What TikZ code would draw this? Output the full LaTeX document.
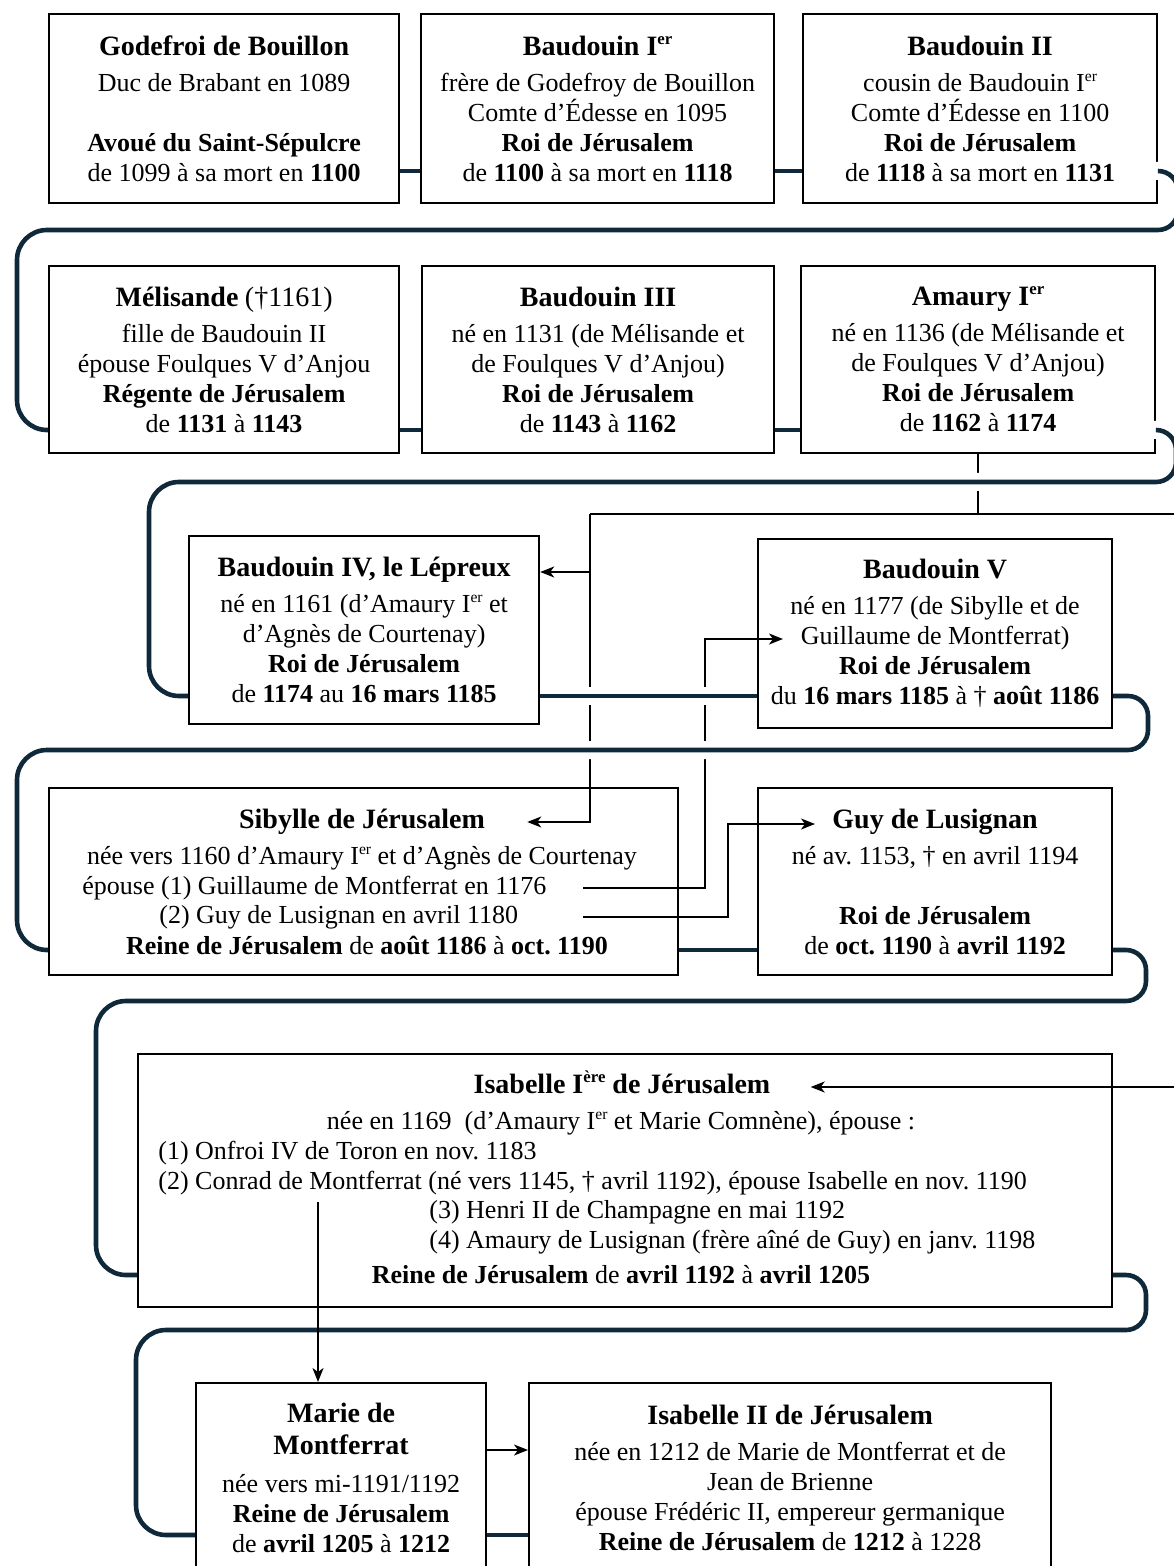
\documentclass[tikz,border=0pt]{standalone}
\usepackage{fontspec}
\usepackage{graphicx}
\setmainfont{Liberation Serif}
\usetikzlibrary{arrows.meta}

\definecolor{reignline}{HTML}{10293A}
\newcommand{\haut}[1]{\raisebox{0.85ex}{\scalebox{0.6}{#1}}}
\newcommand{\ier}{I\haut{er}}
\newcommand{\iere}{I\haut{ère}}
\newcommand{\grand}{\fontsize{14}{15}\selectfont}
\newcommand{\nom}[1]{{\grand\bfseries #1}}
\frenchspacing

\tikzset{
  king/.style = {draw, line width=1.1pt, anchor=north west, align=center, inner sep=0pt,
                 font=\fontsize{13}{15}\selectfont},
  txt/.style = {inner sep=0pt, text height=9.5pt, text depth=3pt, font=\fontsize{13}{15}\selectfont},
  reign/.style = {draw=reignline, line width=2.3pt, rounded corners=10pt,
                  preaction={draw=white, line width=9pt, shorten <=4pt, shorten >=4pt}},
  kin/.style = {draw, line width=0.8pt},
}

\begin{document}
\begin{tikzpicture}[x=0.5pt, y=-0.5pt, >={Stealth[length=7pt, width=5.5pt, inset=2pt]}]
  \useasboundingbox (0,0) rectangle (1173,1566);

  % levels of the succession line
  \coordinate (lvl1) at (0,171);
  \coordinate (lvl2) at (0,430);
  \coordinate (lvl3) at (0,696);
  \coordinate (lvl4) at (0,950);
  \coordinate (lvl5) at (0,1275);
  \coordinate (lvl6) at (0,1535);

  % row 1
  \node[king, minimum width=175pt, minimum height=94.5pt] (godefroi) at (48,13)
    {\nom{Godefroi de Bouillon}\\[3pt] Duc de Brabant en 1089\\[15pt]
     \textbf{Avoué du Saint-Sépulcre}\\ de 1099 à sa mort en \textbf{1100}};
  \node[king, minimum width=176.5pt, minimum height=94.5pt] (baudouinI) at (420,13)
    {\nom{Baudouin \ier}\\[3pt] frère de Godefroy de Bouillon\\ Comte d’Édesse en 1095\\
     \textbf{Roi de Jérusalem}\\ de \textbf{1100} à sa mort en \textbf{1118}};
  \node[king, minimum width=177pt, minimum height=94.5pt] (baudouinII) at (802,13)
    {\nom{Baudouin II}\\[3pt] cousin de Baudouin \ier\\ Comte d’Édesse en 1100\\
     \textbf{Roi de Jérusalem}\\ de \textbf{1118} à sa mort en \textbf{1131}};

  % row 2
  \node[king, minimum width=175pt, minimum height=93.5pt] (melisande) at (48,265)
    {\nom{Mélisande} {\grand(†1161)}\\[3pt] fille de Baudouin II\\ épouse Foulques V d’Anjou\\
     \textbf{Régente de Jérusalem}\\ de \textbf{1131} à \textbf{1143}};
  \node[king, minimum width=176pt, minimum height=93.5pt] (baudouinIII) at (421,265)
    {\nom{Baudouin III}\\[3pt] né en 1131 (de Mélisande et\\ de Foulques V d’Anjou)\\
     \textbf{Roi de Jérusalem}\\ de \textbf{1143} à \textbf{1162}};
  \node[king, minimum width=177pt, minimum height=93.5pt] (amaury) at (800,265)
    {\nom{Amaury \ier}\\[3pt] né en 1136 (de Mélisande et\\ de Foulques V d’Anjou)\\
     \textbf{Roi de Jérusalem}\\ de \textbf{1162} à \textbf{1174}};

  % row 3
  \node[king, minimum width=175pt, minimum height=94pt] (baudouinIV) at (188,535)
    {\nom{Baudouin IV, le Lépreux}\\[3pt] né en 1161 (d’Amaury \ier{} et\\ d’Agnès de Courtenay)\\
     \textbf{Roi de Jérusalem}\\ de \textbf{1174} au \textbf{16 mars 1185}};
  \node[king, minimum width=177pt, minimum height=94.5pt] (baudouinV) at (757,538)
    {\nom{Baudouin V}\\[3pt] né en 1177 (de Sibylle et de\\ Guillaume de Montferrat)\\
     \textbf{Roi de Jérusalem}\\ du \textbf{16 mars 1185} à † \textbf{août 1186}};

  % row 4
  \node[king, minimum width=314.5pt, minimum height=93.5pt] (sibylle) at (48,787) {};
  \node[txt] (sibTitle) at (362,822) {\nom{Sibylle de Jérusalem}};
  \node[txt] (sibBorn) at (362,858) {née vers 1160 d’Amaury \ier{} et d’Agnès de Courtenay};
  \node[txt, anchor=west] (sibEp1) at (82,888) {épouse (1) Guillaume de Montferrat en 1176};
  \node[txt, anchor=west] (sibEp2) at (159,917) {(2) Guy de Lusignan en avril 1180};
  \node[txt] (sibReign) at (367,948)
    {\textbf{Reine de Jérusalem} de \textbf{août 1186} à \textbf{oct. 1190}};
  \node[king, minimum width=177pt, minimum height=93.5pt] (guy) at (757,787)
    {\nom{Guy de Lusignan}\\[3pt] né av. 1153, † en avril 1194\\[15pt]
     \textbf{Roi de Jérusalem}\\ de \textbf{oct. 1190} à \textbf{avril 1192}};

  % row 5
  \node[king, minimum width=487pt, minimum height=126.5pt] (isabelleI) at (137,1053) {};
  \node[txt] (isaTitle) at (622,1087) {\nom{Isabelle \iere{} de Jérusalem}};
  \node[txt] (isaBorn) at (621,1123) {née en 1169\ \ (d’Amaury \ier{} et Marie Comnène), épouse :};
  \node[txt, anchor=west] (isaL1) at (158,1153) {(1) Onfroi IV de Toron en nov. 1183};
  \node[txt, anchor=west] (isaL2) at (158,1183)
    {(2) Conrad de Montferrat (né vers 1145, † avril 1192), épouse Isabelle en nov. 1190};
  \node[txt, anchor=west] (isaL3) at (429,1212) {(3) Henri II de Champagne en mai 1192};
  \node[txt, anchor=west] (isaL4) at (429,1242) {(4) Amaury de Lusignan (frère aîné de Guy) en janv. 1198};
  \node[txt] (isaReign) at (621,1277)
    {\textbf{Reine de Jérusalem} de \textbf{avril 1192} à \textbf{avril 1205}};

  % row 6
  \node[king, minimum width=145pt, minimum height=95pt] (marie) at (195,1382)
    {\nom{Marie de}\\[1pt] \nom{Montferrat}\\[4pt] née vers mi-1191/1192\\
     \textbf{Reine de Jérusalem}\\ de \textbf{avril 1205} à \textbf{1212}};
  \node[king, minimum width=261pt, minimum height=95pt] (isabelleII) at (528,1382)
    {\nom{Isabelle II de Jérusalem}\\[3pt] née en 1212 de Marie de Montferrat et de\\ Jean de Brienne\\
     épouse Frédéric II, empereur germanique\\ \textbf{Reine de Jérusalem} de \textbf{1212} à 1228};

  % family links
  \coordinate (split) at (590,514);
  \coordinate (offright) at (1190,514);
  \coordinate (wed) at (583,0);
  \coordinate (lepreux) at ([shift={(0,37)}]baudouinIV.north east);
  \coordinate (guillaume) at ([shift={(26,101)}]baudouinV.north west);
  \coordinate (guyTip) at ([shift={(58,37)}]guy.north west);

  \draw[kin] (amaury.south) -- (amaury.south |- split);
  \draw[kin, ->] (split) -- (offright) |- ([xshift=20pt]isaTitle.east);
  \draw[kin, ->] (split) |- ([xshift=21pt]sibTitle.east);
  \draw[kin, ->] (split |- lepreux) -- (lepreux);
  \draw[kin, ->] (sibEp1 -| wed) -| ([xshift=-39pt]guillaume) -- (guillaume);
  \draw[kin, ->] (sibEp2 -| wed) -| ([xshift=-43.5pt]guyTip) -- (guyTip);

  % succession line
  \draw[reign] (godefroi.east |- lvl1) -- (baudouinI.west |- lvl1);
  \draw[reign] (baudouinI.east |- lvl1) -- (baudouinII.west |- lvl1);
  \draw[reign] (baudouinII.east |- lvl1) -- (1178,171) -- (1178,230) -- (600,230)
    [rounded corners=15pt] -- (17,230) -- (17,430) -- (melisande.west |- lvl2);
  \draw[reign] (melisande.east |- lvl2) -- (baudouinIII.west |- lvl2);
  \draw[reign] (baudouinIII.east |- lvl2) -- (amaury.west |- lvl2);
  \draw[reign] (amaury.east |- lvl2) -- (1176,430) -- (1176,482) -- (600,482)
    [rounded corners=15pt] -- (149,482) -- (149,696) -- (baudouinIV.west |- lvl3);
  \draw[reign] (baudouinIV.east |- lvl3) -- (baudouinV.west |- lvl3);
  \draw[reign] (baudouinV.east |- lvl3) -- (1148,696) -- (1148,750) -- (600,750)
    [rounded corners=15pt] -- (17,750) -- (17,950) -- (sibylle.west |- lvl4);
  \draw[reign] (sibylle.east |- lvl4) -- (guy.west |- lvl4);
  \draw[reign] (guy.east |- lvl4) -- (1146,950) -- (1146,1001) -- (600,1001)
    [rounded corners=15pt] -- (96,1001) -- (96,1275) -- (isabelleI.west |- lvl5);
  \draw[reign] (isabelleI.east |- lvl5) -- (1146,1275) -- (1146,1330) -- (600,1330)
    [rounded corners=15pt] -- (136,1330) -- (136,1535) -- (marie.west |- lvl6);
  \draw[reign] (marie.east |- lvl6) -- (isabelleII.west |- lvl6);

  % Isabelle's daughter
  \coordinate (conrad) at ([shift={(160,6)}]isaL2.south west);
  \draw[kin, ->] (conrad) -- (conrad |- marie.north);
  \draw[kin, ->] ([shift={(0,68)}]marie.north east) -- ([shift={(0,68)}]isabelleII.north west);
\end{tikzpicture}
\end{document}
